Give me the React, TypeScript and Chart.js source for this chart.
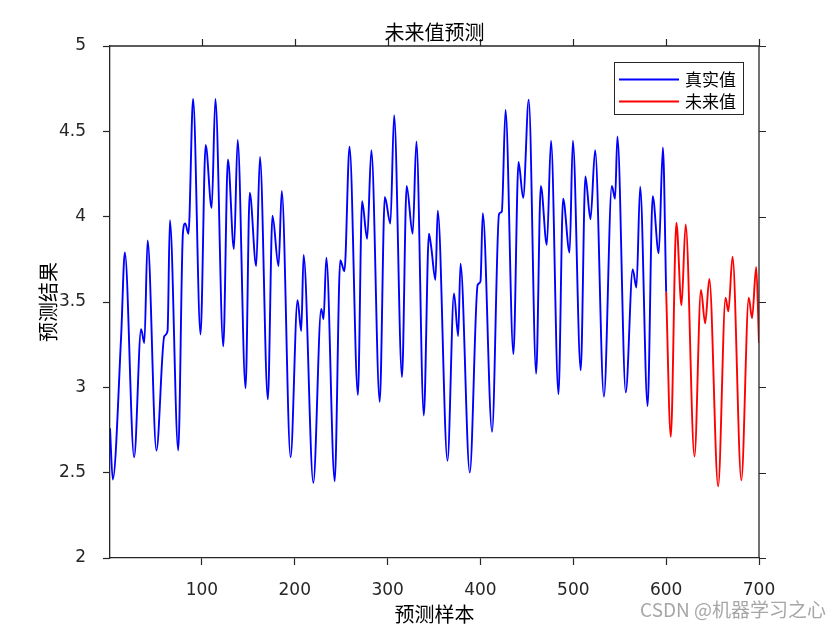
import React, { useEffect, useRef } from "react";
import { Chart, registerables } from "chart.js";

Chart.register(...registerables);

// ---- data (local extrema and shoulders) ----
const blueX = [
  1, 4, 13, 17, 27, 34.5, 38, 41.5, 51, 59.5, 63, 65.5, 74.5, 79.5, 82, 85.5, 90.5, 98.5,
  104, 110.5, 114.5, 123, 128, 134.5, 138.5, 147, 151.5, 158.5, 162.5, 171, 176, 182.5, 186,
  195.5, 203, 207, 209.5, 220, 228.5, 231, 234, 243, 249, 253.5, 259, 268, 272.5, 278, 282.5,
  291.5, 297, 303, 307, 315.5, 320.5, 327, 331, 339, 344.5, 347, 351.5, 354, 364.5, 371.5,
  376, 378.5, 388.5, 397, 400, 402.5, 412.5, 420, 423, 427, 435.5, 441, 446, 452, 460, 465,
  471.5, 476, 484, 489, 496, 499.5, 508, 513, 518.5, 523.5, 533, 541.5, 545, 547.5, 556.5,
  564, 568, 572, 580, 585.5, 592, 596.5, 600,
];
const blueY = [
  2.76, 2.46, 3.3, 3.79, 2.59, 3.34, 3.26, 3.86, 2.63, 3.3, 3.33, 3.98, 2.63, 3.9, 3.96, 3.9, 4.69, 3.31,
  4.42, 4.05, 4.69, 3.24, 4.335, 3.81, 4.45, 2.995, 4.14, 3.71, 4.35, 2.93, 4.005, 3.71, 4.15,
  2.59, 3.51, 3.33, 3.775, 2.44, 3.46, 3.4, 3.76, 2.45, 3.745, 3.68, 4.41, 2.955, 4.09, 3.87, 4.39,
  2.915, 4.115, 3.96, 4.595, 3.06, 4.18, 3.9, 4.44, 2.835, 3.9, 3.82, 3.63, 4.035, 2.57, 3.55,
  3.3, 3.725, 2.5, 3.6, 3.62, 4.02, 2.74, 4.015, 4.03, 4.625, 3.195, 4.32, 4.11, 4.685, 3.08, 4.18,
  3.835, 4.445, 2.96, 4.105, 3.79, 4.445, 3.1, 4.235, 3.985, 4.39, 2.945, 4.18, 4.105, 4.47, 2.97,
  3.69, 3.585, 4.175, 2.89, 4.12, 3.785, 4.405, 3.56,
];
const redX = [600, 605, 611, 616.5, 621, 630.5, 637.5, 642, 646.5, 656, 664, 667, 671.5, 681, 689, 692.5, 697, 700];
const redY = [3.56, 2.71, 3.965, 3.48, 3.955, 2.595, 3.57, 3.375, 3.635, 2.42, 3.525, 3.445, 3.765, 2.455, 3.525, 3.405, 3.705, 3.26];

const xTicks = [100, 200, 300, 400, 500, 600, 700];
const yTicks = [2, 2.5, 3, 3.5, 4, 4.5, 5];
const seriesNames = ["真实值", "未来值"];
const seriesColors = ["#0000ff", "#ff0000"];
const titleText = "未来值预测";
const xTitle = "预测样本";
const yTitle = "预测结果";
const watermark = "CSDN @机器学习之心";

const AXIS = "#262626";
const CJK = '"Noto Sans CJK SC", sans-serif';
const NUM = '"DejaVu Sans", sans-serif';

const framePlugin = {
  id: "frame",
  afterDraw(chart: any) {
    const { ctx, chartArea: ca, scales } = chart;
    const sx = scales.x;
    const sy = scales.y;
    ctx.save();
    ctx.strokeStyle = AXIS;
    ctx.lineWidth = 1.3;
    ctx.beginPath();
    ctx.moveTo(ca.left, ca.top);
    ctx.lineTo(ca.right, ca.top);
    ctx.lineTo(ca.right, ca.bottom);
    ctx.stroke();
    ctx.lineWidth = 1.2;
    ctx.beginPath();
    xTicks.forEach((v) => {
      const px = Math.round(sx.getPixelForValue(v)) + 0.5;
      ctx.moveTo(px, ca.top);
      ctx.lineTo(px, ca.top - 7);
    });
    yTicks.forEach((v) => {
      const py = Math.round(sy.getPixelForValue(v)) + 0.5;
      ctx.moveTo(ca.right, py);
      ctx.lineTo(ca.right + 7, py);
    });
    ctx.stroke();

    // titles
    const cx = (ca.left + ca.right) / 2;
    ctx.fillStyle = "#000";
    ctx.font = `20px ${CJK}`;
    ctx.textAlign = "center";
    ctx.textBaseline = "middle";
    ctx.fillText(titleText, cx, 32);
    ctx.fillText(xTitle, cx, 614);
    ctx.save();
    ctx.translate(48, (ca.top + ca.bottom) / 2);
    ctx.rotate(-Math.PI / 2);
    ctx.fillText(yTitle, 0, 0);
    ctx.restore();

    // legend
    const lx = 614, ly = 62, lw = 129, lh = 52;
    ctx.fillStyle = "#fff";
    ctx.fillRect(lx, ly, lw, lh);
    ctx.strokeStyle = AXIS;
    ctx.lineWidth = 1;
    ctx.strokeRect(lx + 0.5, ly + 0.5, lw, lh);
    const rows = [79.5, 101.5];
    seriesNames.forEach((name, i) => {
      ctx.strokeStyle = seriesColors[i];
      ctx.lineWidth = 1.8;
      ctx.beginPath();
      ctx.moveTo(619, rows[i]);
      ctx.lineTo(679, rows[i]);
      ctx.stroke();
      ctx.fillStyle = "#000";
      ctx.font = `17px ${CJK}`;
      ctx.textAlign = "left";
      ctx.textBaseline = "middle";
      ctx.fillText(name, 685, rows[i]);
    });

    // watermark
    ctx.fillStyle = "rgba(150,150,150,0.85)";
    ctx.font = `19px ${CJK}`;
    ctx.textAlign = "right";
    ctx.textBaseline = "middle";
    ctx.fillText(watermark, 826, 610);
    ctx.restore();
  },
};

export default function App() {
  const canvasRef = useRef<HTMLCanvasElement | null>(null);

  useEffect(() => {
    const canvas = canvasRef.current;
    if (!canvas) return;
    const toPts = (xs: number[], ys: number[]) => xs.map((x, i) => ({ x, y: ys[i] }));
    const chart = new Chart(canvas, {
      type: "line",
      data: {
        datasets: [
          {
            label: seriesNames[0],
            data: toPts(blueX, blueY),
            borderColor: seriesColors[0],
            borderWidth: 1.9,
            pointRadius: 0,
            cubicInterpolationMode: "monotone",
            fill: false,
          },
          {
            label: seriesNames[1],
            data: toPts(redX, redY),
            borderColor: seriesColors[1],
            borderWidth: 1.9,
            pointRadius: 0,
            cubicInterpolationMode: "monotone",
            fill: false,
          },
        ],
      },
      options: {
        animation: false,
        responsive: true,
        maintainAspectRatio: false,
        layout: { padding: { left: 0, right: 81, top: 46, bottom: 0 } },
        plugins: { legend: { display: false }, tooltip: { enabled: false }, title: { display: false } },
        scales: {
          x: {
            type: "linear",
            min: 1,
            max: 700,
            afterBuildTicks: (s: any) => {
              s.ticks = xTicks.map((v) => ({ value: v }));
            },
            afterFit: (s: any) => {
              s.height = 72;
            },
            ticks: {
              color: "#262626",
              font: { family: NUM, size: 17 },
              padding: 15,
              maxRotation: 0,
              autoSkip: false,
              callback: (v: any) => String(v),
            },
            grid: { drawOnChartArea: false, drawTicks: true, tickLength: 7, tickColor: AXIS, tickWidth: 1.2, color: AXIS },
            border: { display: true, color: AXIS, width: 1.3 },
          },
          y: {
            type: "linear",
            min: 2,
            max: 5,
            afterBuildTicks: (s: any) => {
              s.ticks = yTicks.map((v) => ({ value: v }));
            },
            afterFit: (s: any) => {
              s.width = 110;
            },
            ticks: {
              color: "#262626",
              font: { family: NUM, size: 17 },
              padding: 17,
              autoSkip: false,
              callback: (v: any) => String(v),
            },
            grid: { drawOnChartArea: false, drawTicks: true, tickLength: 7, tickColor: AXIS, tickWidth: 1.2, color: AXIS },
            border: { display: true, color: AXIS, width: 1.3 },
          },
        },
      } as any,
      plugins: [framePlugin],
    });
    return () => chart.destroy();
  }, []);

  return (
    <div style={{ position: "absolute", left: 0, top: 0, width: 840, height: 630, background: "#fff" }}>
      <canvas ref={canvasRef} />
    </div>
  );
}
